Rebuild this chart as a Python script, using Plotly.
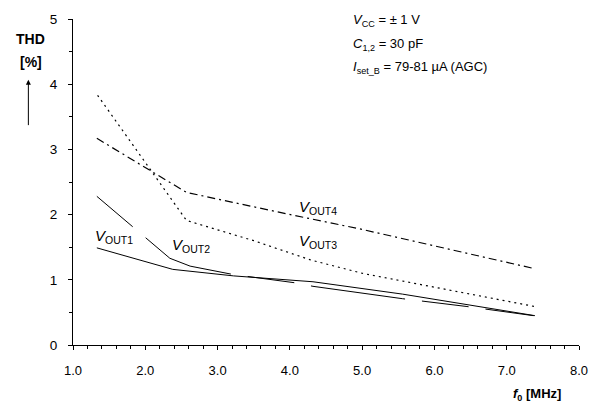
import plotly.graph_objects as go

# ---- data ----
f_vout1 = [1.33, 2.38, 3.22, 4.32, 5.56, 6.45, 7.39]
thd_vout1 = [1.49, 1.16, 1.06, 0.97, 0.78, 0.62, 0.45]

f_vout2 = [1.33, 2.34, 2.62, 3.22, 4.10, 4.32, 5.56, 6.45, 7.37]
thd_vout2 = [2.28, 1.33, 1.21, 1.08, 0.95, 0.90, 0.71, 0.59, 0.45]

f_vout3 = [1.34, 2.57, 3.50, 4.30, 5.00, 7.39]
thd_vout3 = [3.83, 1.91, 1.60, 1.30, 1.10, 0.59]

f_vout4 = [1.33, 2.57, 4.05, 4.97, 7.39]
thd_vout4 = [3.17, 2.34, 1.99, 1.78, 1.17]

x_ticks = [1, 2, 3, 4, 5, 6, 7, 8]
y_ticks = [0, 1, 2, 3, 4, 5]

FONT = "Liberation Sans, Arial, sans-serif"

fig = go.Figure()
fig.add_trace(go.Scatter(x=f_vout1, y=thd_vout1, mode="lines",
                         line=dict(color="black", width=1), name="VOUT1"))
fig.add_trace(go.Scatter(x=f_vout2, y=thd_vout2, mode="lines",
                         line=dict(color="black", width=1, dash="47px,17px,95px,17px"), name="VOUT2"))
fig.add_trace(go.Scatter(x=f_vout3, y=thd_vout3, mode="lines",
                         line=dict(color="black", width=1.2, dash="2px,4px"), name="VOUT3"))
fig.add_trace(go.Scatter(x=f_vout4, y=thd_vout4, mode="lines",
                         line=dict(color="black", width=1.2, dash="8px,4px,2px,4px"), name="VOUT4"))

ann = []
def lab(x, y, text, size=15, xref="x", yref="y", xanchor="left", yanchor="middle"):
    ann.append(dict(x=x, y=y, xref=xref, yref=yref, text=text, showarrow=False,
                    xanchor=xanchor, yanchor=yanchor, font=dict(family=FONT, size=size, color="black")))

lab(1.28, 1.66, "<i>V</i><sub>OUT1</sub>")
lab(2.34, 1.52, "<i>V</i><sub>OUT2</sub>")
lab(4.10, 2.11, "<i>V</i><sub>OUT4</sub>")
lab(4.10, 1.58, "<i>V</i><sub>OUT3</sub>")

lab(0.549, 0.995, "<i>V</i><sub>CC</sub> = ± 1 V", size=13, xref="paper", yref="paper")
lab(0.549, 0.9225, "<i>C</i><sub>1,2</sub> = 30 pF", size=13, xref="paper", yref="paper")
lab(0.549, 0.850, "<i>I</i><sub>set_B</sub> = 79-81 µA (AGC)", size=13, xref="paper", yref="paper")

lab(-0.0836, 0.9376, "<b>THD</b>", size=14, xref="paper", yref="paper", xanchor="center")
lab(-0.0836, 0.868, "<b>[%]</b>", size=14, xref="paper", yref="paper", xanchor="center")
lab(0.968, -0.151, "<b><i>f</i><sub>0</sub> [MHz]</b>", size=13, xref="paper", yref="paper", xanchor="right")

ann.append(dict(x=-0.0882, y=0.814, xref="paper", yref="paper", ax=0, ay=47,
                showarrow=True, arrowhead=2, arrowsize=1, arrowwidth=1, arrowcolor="black", text=""))

fig.update_layout(
    width=601, height=407,
    margin=dict(l=73, r=22, t=13, b=62),
    plot_bgcolor="white", paper_bgcolor="white",
    showlegend=False,
    annotations=ann,
    font=dict(family=FONT, size=13, color="black"),
)
fig.update_xaxes(range=[1, 8], tickvals=x_ticks, tickformat=".1f", showgrid=False, zeroline=False,
                 showline=True, linecolor="black", linewidth=1, ticks="outside", ticklen=4,
                 tickcolor="black", tickfont=dict(size=13), ticklabelstandoff=9,
                 minor=dict(dtick=0.2, ticks="outside", ticklen=3, tickcolor="black", showgrid=False))
fig.update_yaxes(range=[0, 5], tickvals=y_ticks, showgrid=False, zeroline=False,
                 showline=True, linecolor="black", linewidth=1, ticks="outside", ticklen=4,
                 tickcolor="black", tickfont=dict(size=13.5), ticklabelstandoff=8,
                 minor=dict(dtick=0.5, ticks="outside", ticklen=3, tickcolor="black", showgrid=False))

fig.write_html("out.html")
